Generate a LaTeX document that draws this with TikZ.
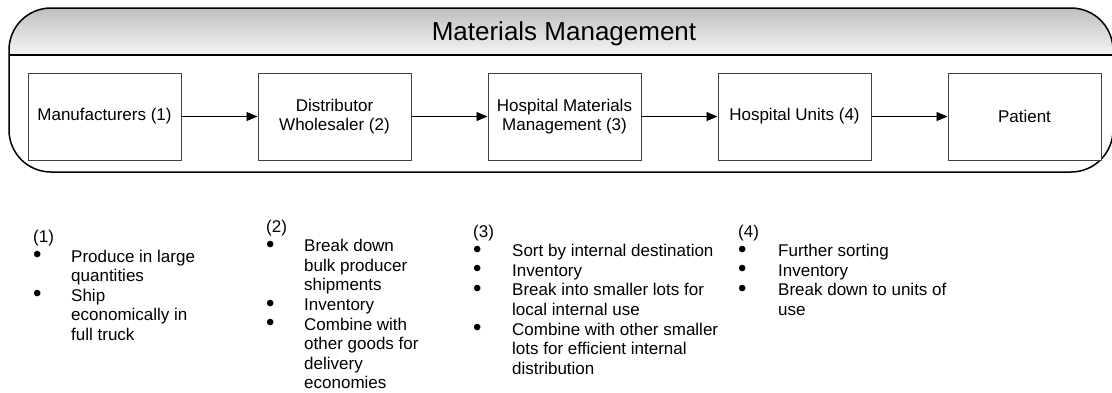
\documentclass[tikz,border=0pt]{standalone}
\usepackage{fontspec}
\setmainfont{Liberation Sans}
\usetikzlibrary{arrows.meta}
\newcommand{\bigbul}{\raisebox{-0.6pt}[0pt][0pt]{\fontsize{24}{0}\selectfont\textbullet}}
\begin{document}
\begin{tikzpicture}[x=1pt,y=-1pt,
  stagebox/.style={draw=black!75, line width=1pt, fill=white, minimum width=153pt, minimum height=87pt, inner sep=2pt, align=center, font=\fontsize{17}{19.6}\selectfont},
  flow/.style={-{Triangle[length=11pt,width=9pt]}, line width=0.8pt},
  notes/.style={anchor=base west, inner sep=0pt, font=\fontsize{17}{19.6}\selectfont},
  frame/.style={line width=1.5pt, rounded corners=42pt}]
\useasboundingbox (0,0) rectangle (1112,392);
\begin{scope}
\clip[rounded corners=42pt] (9,8) rectangle (1113,172);
\shade[top color=black!25, bottom color=black!4] (9,8) rectangle (1113,55);
\end{scope}
\draw[frame] (9,8) rectangle (1113,172);
\draw[line width=1.8pt] (9,55) -- (1113,55);
\node[font=\fontsize{26}{30}\selectfont, anchor=base, inner sep=0pt] (title) at (564,40) {Materials Management};

\node[stagebox] (b1) at (104.5,116.5) {Manufacturers (1)};
\node[stagebox] (b2) at (334.5,116.5) {Distributor\\Wholesaler (2)};
\node[stagebox] (b3) at (564.5,116.5) {Hospital Materials\\Management (3)};
\node[stagebox] (b4) at (794.5,116.5) {Hospital Units (4)};
\node[stagebox] (b5) at (1024.5,116.5) {Patient};
\draw[flow] (b1) -- (b2);
\draw[flow] (b2) -- (b3);
\draw[flow] (b3) -- (b4);
\draw[flow] (b4) -- (b5);

\node[notes] (n1) at (33,242.5) {\begin{tabular}[t]{@{}p{38pt}@{}l@{}}
\multicolumn{2}{@{}l@{}}{(1)}\\
\bigbul & Produce in large\\
 & quantities\\
\bigbul & Ship\\
 & economically in\\
 & full truck
\end{tabular}};
\node[notes] (n2) at (266,232) {\begin{tabular}[t]{@{}p{38pt}@{}l@{}}
\multicolumn{2}{@{}l@{}}{(2)}\\
\bigbul & Break down\\
 & bulk producer\\
 & shipments\\
\bigbul & Inventory\\
\bigbul & Combine with\\
 & other goods for\\
 & delivery\\
 & economies
\end{tabular}};
\node[notes] (n3) at (473,237) {\begin{tabular}[t]{@{}p{39pt}@{}l@{}}
\multicolumn{2}{@{}l@{}}{(3)}\\
\bigbul & Sort by internal destination\\
\bigbul & Inventory\\
\bigbul & Break into smaller lots for\\
 & local internal use\\
\bigbul & Combine with other smaller\\
 & lots for efficient internal\\
 & distribution
\end{tabular}};
\node[notes] (n4) at (738,237) {\begin{tabular}[t]{@{}p{40pt}@{}l@{}}
\multicolumn{2}{@{}l@{}}{(4)}\\
\bigbul & Further sorting\\
\bigbul & Inventory\\
\bigbul & Break down to units of\\
 & use
\end{tabular}};
\end{tikzpicture}
\end{document}
